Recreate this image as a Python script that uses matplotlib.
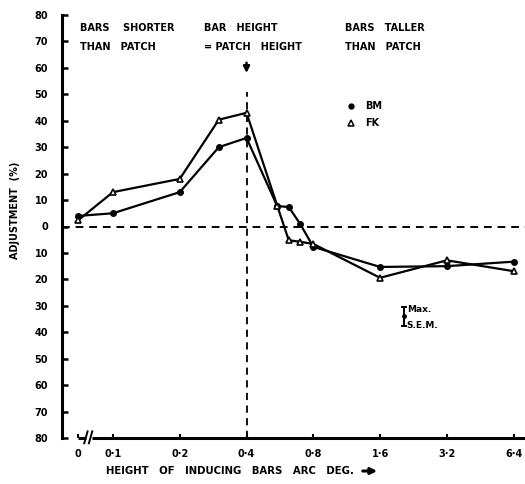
import numpy as np
import matplotlib
matplotlib.use('Agg')
import matplotlib.pyplot as plt

# data
heights = [0, 0.1, 0.2, 0.3, 0.4, 0.55, 0.62, 0.7, 0.8, 1.6, 3.2, 6.4]
bm = [4, 5, 13, 30, 33.5, 7.7, 7.4, 0.8, -7.7, -15.3, -15, -13.3]
fk = [2.3, 13, 18, 40.4, 43, 7.9, -5.2, -5.8, -6.6, -19.4, -12.8, -16.9]
xticks = [0, 0.1, 0.2, 0.4, 0.8, 1.6, 3.2, 6.4]
xticklabels = ['0', '0·1', '0·2', '0·4', '0·8', '1·6', '3·2', '6·4']
yticks = list(range(-80, 81, 10))
sem_x, sem_y, sem_err = 2.05, -34, 3.6

ZERO_POS = -0.524  # where "0" sits, left of the axis break


def fwd(x):
    x = np.asarray(x, dtype=float)
    with np.errstate(divide='ignore', invalid='ignore'):
        p = np.log2(np.maximum(x, 1e-12) / 0.1)
    return np.where(x > 0, p, ZERO_POS)


def inv(p):
    return 0.1 * 2.0 ** np.asarray(p, dtype=float)


XL, XR = -0.763, 6.17

plt.rcParams['font.family'] = 'DejaVu Sans'
plt.rcParams['font.weight'] = 'bold'

fig = plt.figure(figsize=(5.25, 4.84), dpi=100)
ax = fig.add_axes([62 / 525, 46 / 484, 463 / 525, 423 / 484])
ax.set_xscale('function', functions=(fwd, inv))

for s in ['top', 'right', 'bottom']:
    ax.spines[s].set_visible(False)
ax.spines['left'].set_linewidth(2.2)

# bottom axis line with break
brk1, brk2 = inv(-0.40), inv(-0.31)
ax.plot([0, brk1], [-80, -80], color='k', lw=2.2, clip_on=False, solid_capstyle='butt')
ax.plot([brk2, inv(XR)], [-80, -80], color='k', lw=2.2, clip_on=False, solid_capstyle='butt')
for a, b in [(-0.43, -0.38), (-0.36, -0.31)]:
    ax.plot([inv(a), inv(b)], [-82, -77.5], color='k', lw=1.4, clip_on=False)

# reference lines
ax.axhline(0, color='k', lw=1.4, ls=(0, (4, 3)))
ax.plot([0.4, 0.4], [-80, 51], color='k', lw=1.3, ls=(0, (4, 3)))
ax.annotate('', xy=(0.4, 57), xytext=(0.4, 63),
            arrowprops=dict(arrowstyle='-|>', color='k', lw=1.8, mutation_scale=9))

ax.plot(heights, bm, color='k', lw=1.6, marker='o', ms=4, mfc='k', mec='k')
ax.plot(heights, fk, color='k', lw=1.6, marker='^', ms=5, mfc='white', mec='k', mew=1.2)

# legend
ax.plot([inv(3.57)], [45.5], marker='o', ms=3.5, color='k', clip_on=False)
ax.plot([inv(3.57)], [39], marker='^', ms=4, mfc='white', mec='k', mew=1.1, clip_on=False)
ax.text(inv(3.77), 45.5, 'BM', fontsize=7, va='center', ha='left')
ax.text(inv(3.77), 39, 'FK', fontsize=7, va='center', ha='left')

# max SEM bar
ax.errorbar([sem_x], [sem_y], yerr=[sem_err], fmt='o', color='k', ms=2.5,
            capsize=2.5, elinewidth=1.4, capthick=1.4)
ax.text(inv(4.4), -31.5, 'Max.', fontsize=6.5, va='center', ha='left')
ax.text(inv(4.4), -37.5, 'S.E.M.', fontsize=6.5, va='center', ha='left')

# region labels
fs = 7
ax.text(inv(-0.5), 75, 'BARS    SHORTER', fontsize=fs, va='center', ha='left')
ax.text(inv(-0.5), 68, 'THAN   PATCH', fontsize=fs, va='center', ha='left')
ax.text(inv(1.37), 75, 'BAR   HEIGHT', fontsize=fs, va='center', ha='left')
ax.text(inv(1.37), 68, '= PATCH   HEIGHT', fontsize=fs, va='center', ha='left')
ax.text(inv(3.48), 75, 'BARS   TALLER', fontsize=fs, va='center', ha='left')
ax.text(inv(3.48), 68, 'THAN   PATCH', fontsize=fs, va='center', ha='left')

ax.set_yticks(yticks)
ax.set_yticklabels([str(abs(v)) for v in yticks])
ax.tick_params(axis='y', direction='in', length=4, width=1.8, pad=10, labelsize=7)
ax.set_xticks(xticks)
ax.set_xticklabels(xticklabels)
ax.tick_params(axis='x', direction='in', length=3, width=1.5, pad=8, labelsize=7)
ax.set_xlim(inv(XL), inv(XR))
ax.set_ylim(-80, 80)
ax.set_autoscale_on(False)

fig.text(106 / 525, 1 - 471 / 484, 'HEIGHT   OF   INDUCING   BARS   ARC   DEG.',
         fontsize=7.3, va='center', ha='left')
ax.annotate('', xy=(380, 484 - 471), xytext=(360, 484 - 471),
            xycoords='figure pixels', textcoords='figure pixels',
            arrowprops=dict(arrowstyle='-|>', color='k', lw=2.2, mutation_scale=9))
fig.text(15 / 525, 1 - 210 / 484, 'ADJUSTMENT  (%)', fontsize=7, rotation=90,
         va='center', ha='center')

fig.savefig('out.png', dpi=100)
